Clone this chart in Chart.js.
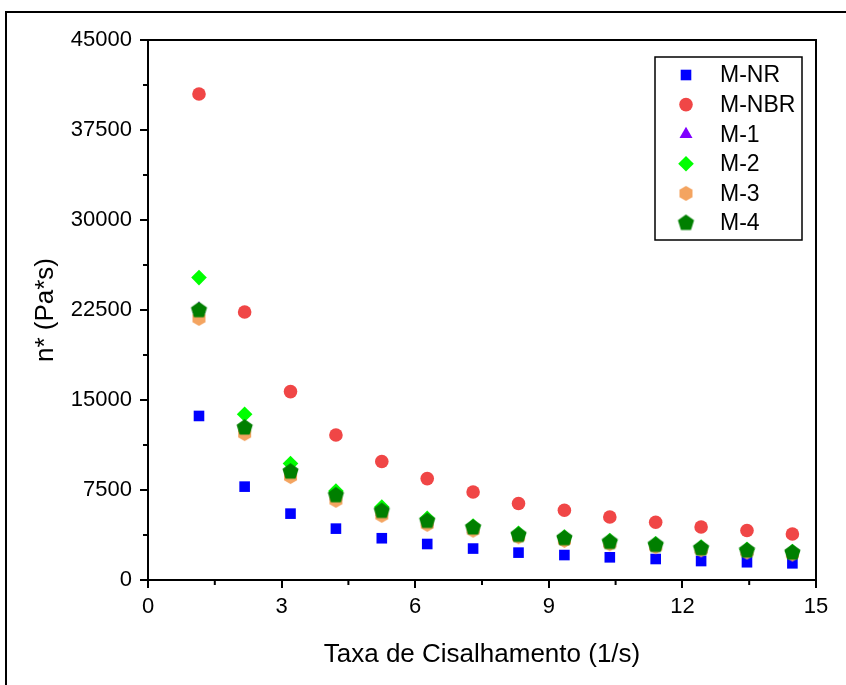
<!DOCTYPE html>
<html>
<head>
<meta charset="utf-8">
<script src="https://cdn.jsdelivr.net/npm/chart.js@4"></script>
<style>
  body { margin: 0; background: #fff; }
</style>
</head>
<body>
<canvas id="viscChart" width="846" height="685"></canvas>
<script>
// Taxa de cisalhamento (1/s)
const taxa = [1.145, 2.17, 3.2, 4.22, 5.25, 6.27, 7.3, 8.32, 9.35, 10.37, 11.4, 12.42, 13.45, 14.47];

// n* (Pa*s) para cada amostra
const mNR  = [13670, 7780, 5530, 4280, 3480, 3000, 2620, 2280, 2080, 1890, 1750, 1580, 1480, 1390];
const mNBR = [40500, 22330, 15700, 12080, 9870, 8450, 7330, 6370, 5810, 5250, 4810, 4420, 4120, 3830];
const m1   = [22600, 12650, 8900, 6950, 5650, 4850, 4250, 3680, 3400, 3100, 2850, 2580, 2400, 2230];
const m2   = [25200, 13810, 9700, 7420, 6080, 5140, 4500, 3900, 3580, 3280, 3020, 2750, 2550, 2380];
const m3   = [21800, 12200, 8620, 6640, 5390, 4640, 4150, 3600, 3300, 3020, 2780, 2520, 2330, 2170];
const m4   = [22480, 12700, 9030, 7060, 5750, 4920, 4370, 3750, 3480, 3170, 2920, 2640, 2450, 2280];

const xTicks = [0, 3, 6, 9, 12, 15];
const yTicks = [0, 7500, 15000, 22500, 30000, 37500, 45000];

const FONT = "'Liberation Sans', Arial, sans-serif";

// Marcadores que o Chart.js não tem: pentágono e hexágono
function polygonMarker(sides, radius, color) {
    const c = document.createElement('canvas');
    const s = Math.ceil(radius * 2) + 2;
    c.width = s;
    c.height = s;
    const g = c.getContext('2d');
    g.fillStyle = color;
    g.beginPath();
    for (let i = 0; i < sides; i++) {
        const a = -Math.PI / 2 + i * 2 * Math.PI / sides;
        const px = s / 2 + radius * Math.cos(a);
        const py = s / 2 + radius * Math.sin(a);
        if (i === 0) g.moveTo(px, py); else g.lineTo(px, py);
    }
    g.closePath();
    g.fill();
    return c;
}

const hexagon = polygonMarker(6, 7.5, '#f4a460');
const pentagon = polygonMarker(5, 8.5, '#007f00');

function serie(label, values, color, style, radius, order) {
    return {
        label: label,
        data: taxa.map((x, i) => ({ x: x, y: values[i] })),
        backgroundColor: color,
        borderColor: color,
        borderWidth: 0,
        pointStyle: style,
        pointRadius: radius,
        pointHoverRadius: radius,
        order: order
    };
}

const datasets = [
    serie('M-NR', mNR, '#0000ff', 'rect', 7.5, 5),
    serie('M-NBR', mNBR, '#f04646', 'circle', 6.8, 4),
    serie('M-1', m1, '#8000ff', 'triangle', 7.5, 3),
    serie('M-2', m2, '#00ff00', 'rectRot', 7.8, 2),
    serie('M-3', m3, '#f4a460', hexagon, 7.5, 1),
    serie('M-4', m4, '#007f00', pentagon, 8.5, 0)
];

// Moldura, ticks menores, títulos e legenda
const decorPlugin = {
    id: 'decor',
    afterDraw(chart) {
        const ctx = chart.ctx;
        const a = chart.chartArea;
        const xs = chart.scales.x;
        const ys = chart.scales.y;
        ctx.save();
        ctx.strokeStyle = '#000';

        // moldura externa
        ctx.lineWidth = 2;
        ctx.strokeRect(6, 12, 900, 800);

        // caixa do gráfico
        ctx.strokeRect(a.left, a.top, a.right - a.left, a.bottom - a.top);

        // ticks menores
        ctx.lineWidth = 2;
        ctx.beginPath();
        for (let v = 1.5; v < 15; v += 3) {
            const px = xs.getPixelForValue(v);
            ctx.moveTo(px, a.bottom);
            ctx.lineTo(px, a.bottom + 5);
        }
        for (let v = 3750; v < 45000; v += 7500) {
            const py = ys.getPixelForValue(v);
            ctx.moveTo(a.left, py);
            ctx.lineTo(a.left - 5, py);
        }
        ctx.stroke();

        // títulos dos eixos
        ctx.fillStyle = '#000';
        ctx.font = '26px ' + FONT;
        ctx.textAlign = 'center';
        ctx.textBaseline = 'middle';
        ctx.fillText('Taxa de Cisalhamento (1/s)', (a.left + a.right) / 2, 655);
        ctx.save();
        ctx.translate(46, (a.top + a.bottom) / 2);
        ctx.rotate(-Math.PI / 2);
        ctx.fillText('n* (Pa*s)', 0, 0);
        ctx.restore();

        // legenda
        ctx.lineWidth = 1.5;
        ctx.strokeRect(655, 57, 147, 183);
        ctx.font = '23px ' + FONT;
        ctx.textAlign = 'left';
        chart.data.datasets.forEach((ds, i) => {
            const y = 75 + i * 29.6;
            ctx.fillStyle = ds.backgroundColor;
            Chart.helpers.drawPoint(ctx, {
                pointStyle: ds.pointStyle,
                radius: ds.pointRadius,
                borderWidth: 0
            }, 686, y);
            ctx.fillStyle = '#000';
            ctx.fillText(ds.label, 720, y + 1);
        });
        ctx.restore();
    }
};

new Chart(document.getElementById('viscChart').getContext('2d'), {
    type: 'scatter',
    data: { datasets: datasets },
    options: {
        responsive: false,
        animation: false,
        layout: { padding: { top: 40, right: 30, left: 0, bottom: 0 } },
        plugins: {
            legend: { display: false },
            tooltip: { enabled: false }
        },
        scales: {
            x: {
                type: 'linear',
                min: 0,
                max: 15,
                afterFit: (s) => { s.height = 105; },
                afterBuildTicks: (s) => { s.ticks = xTicks.map(v => ({ value: v })); },
                border: { color: '#000', width: 2 },
                grid: { drawOnChartArea: false, drawTicks: true, tickLength: 8, color: '#000', lineWidth: 2 },
                ticks: { color: '#000', padding: 6, font: { size: 22, family: FONT } }
            },
            y: {
                type: 'linear',
                min: 0,
                max: 45000,
                afterFit: (s) => { s.width = 148; },
                afterBuildTicks: (s) => { s.ticks = yTicks.map(v => ({ value: v })); },
                border: { color: '#000', width: 2 },
                grid: { drawOnChartArea: false, drawTicks: true, tickLength: 8, color: '#000', lineWidth: 2 },
                ticks: { color: '#000', padding: 8, font: { size: 22, family: FONT }, callback: (v) => String(v) }
            }
        }
    },
    plugins: [decorPlugin]
});
</script>
</body>
</html>
